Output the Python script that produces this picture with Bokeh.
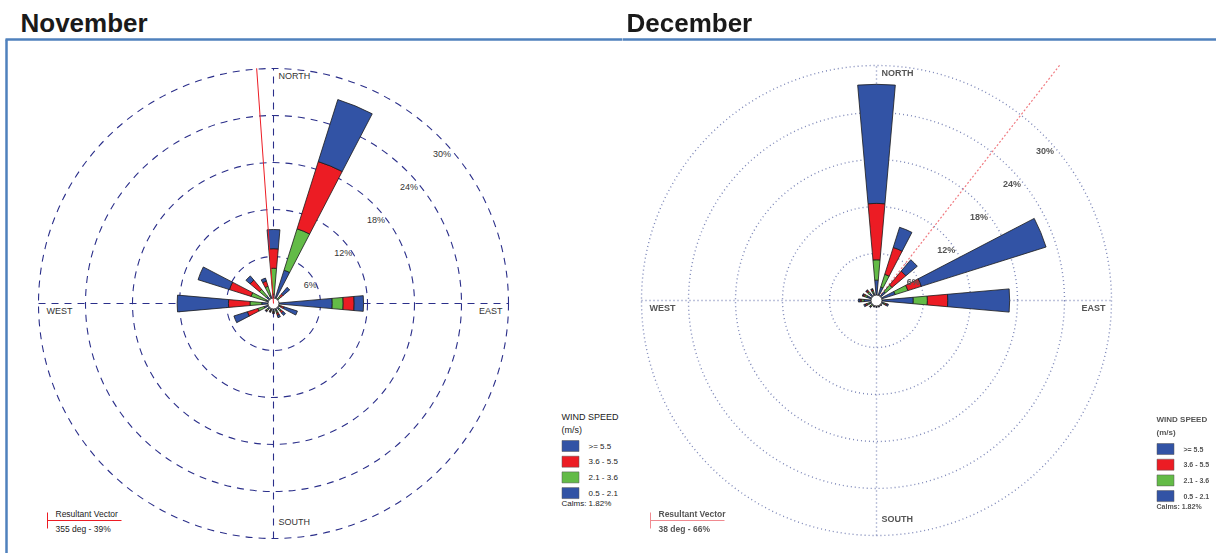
import math
from bokeh.plotting import figure
from bokeh.models import Range1d, ColumnDataSource, InlineStyleSheet
from bokeh.layouts import row
from bokeh.embed import file_html
from bokeh.resources import INLINE
from bokeh.core.properties import value

# --- data -------------------------------------------------------------
directions = ["N", "NNE", "NE", "ENE", "E", "ESE", "SE", "SSE",
              "S", "SSW", "SW", "WSW", "W", "WNW", "NW", "NNW"]
bearings = [22.5 * i for i in range(16)]

# frequency (%) per direction, per wind-speed class (m/s), listed from the centre out
speed_labels = ["0.5 - 2.1", "2.1 - 3.6", "3.6 - 5.5", ">= 5.5"]
class_colors = ["#3253a5", "#63bb47", "#ec1c24", "#3253a5"]

nov_05_21 = [1.2, 4.46, 0.8, 0.0, 7.5, 0.8, 1.0, 1.0, 1.0, 0.9, 1.0, 1.25, 1.5, 1.0, 1.2, 1.1]
nov_21_36 = [3.3, 5.54, 0.4, 0.0, 1.4, 0.2, 0.3, 0.3, 0.1, 0.1, 0.2, 0.85, 1.5, 2.0, 1.15, 1.2]
nov_36_55 = [2.5, 9.0, 0.4, 0.0, 1.4, 0.4, 0.3, 0.3, 0.1, 0.1, 0.1, 1.4, 2.75, 2.9, 1.55, 0.7]
nov_55_up = [2.45, 8.3, 1.1, 0.0, 1.2, 1.8, 0.4, 0.3, 0.1, 0.1, 0.1, 1.8, 6.55, 4.2, 0.7, 0.4]

dec_05_21 = [2.6, 1.8, 1.5, 2.5, 4.7, 1.0, 0.6, 0.6, 0.6, 0.6, 0.8, 1.0, 1.6, 1.3, 1.2, 1.0]
dec_21_36 = [2.6, 1.7, 1.1, 1.7, 1.8, 0.2, 0.1, 0.1, 0.1, 0.1, 0.2, 0.3, 0.3, 0.3, 0.3, 0.3]
dec_36_55 = [7.2, 3.6, 2.3, 1.8, 2.6, 0.2, 0.1, 0.1, 0.1, 0.1, 0.1, 0.2, 0.2, 0.2, 0.2, 0.2]
dec_55_up = [15.2, 2.7, 1.9, 16.7, 7.9, 0.2, 0.1, 0.1, 0.1, 0.1, 0.1, 0.2, 0.2, 0.1, 0.1, 0.1]

ring_levels = [6, 12, 18, 24, 30]
ring_labels = ["6%", "12%", "18%", "24%", "30%"]
compass = ["NORTH", "EAST", "SOUTH", "WEST"]

nov_calms = "Calms: 1.82%"
dec_calms = "Calms: 1.82%"
nov_vector_deg, nov_vector_len, nov_vector_text = 355.9, 30.1, "355 deg - 39%"
dec_vector_deg, dec_vector_len, dec_vector_text = 37.9, 38.3, "38 deg - 66%"

# --- layout constants ------------------------------------------------
W, H = 1216, 553
SPLIT = 622
PX = 235.0 / 30.0          # pixels per percent
FONT = value("Liberation Sans")
WEDGE_HALF = math.radians(5)


def Y(y_from_top):
    return H - y_from_top


def make_fig(x0, x1):
    p = figure(width=x1 - x0, height=H, x_range=Range1d(x0, x1), y_range=Range1d(0, H),
               output_backend="svg", toolbar_location=None, min_border=0)
    p.axis.visible = False
    p.grid.visible = False
    p.outline_line_color = None
    p.background_fill_color = "white"
    p.border_fill_color = "white"
    return p


def draw_rose(p, cx, cy, classes, ring_color, ring_dash, ring_width, text_color, bold):
    # rings
    p.circle(x=[cx] * len(ring_levels), y=[cy] * len(ring_levels),
             radius=[r * PX for r in ring_levels], fill_color=None,
             line_color=ring_color, line_dash=ring_dash, line_width=ring_width)
    rmax = ring_levels[-1] * PX
    p.segment(x0=[cx - rmax, cx], y0=[cy, cy - rmax], x1=[cx + rmax, cx], y1=[cy, cy + rmax],
              line_color=ring_color, line_dash=ring_dash, line_width=ring_width)

    # stacked wedges
    xs, ys, r_in, r_out, a0, a1, cols = [], [], [], [], [], [], []
    for i, b in enumerate(bearings):
        ang = math.radians(90 - b)
        cum = 0.0
        for k, vals in enumerate(classes):
            v = vals[i]
            if v <= 0:
                continue
            xs.append(cx); ys.append(cy)
            r_in.append(cum * PX); r_out.append((cum + v) * PX)
            a0.append(ang - WEDGE_HALF); a1.append(ang + WEDGE_HALF)
            cols.append(class_colors[k])
            cum += v
    src = ColumnDataSource(dict(x=xs, y=ys, ri=r_in, ro=r_out, a0=a0, a1=a1, c=cols))
    p.annular_wedge(x="x", y="y", inner_radius="ri", outer_radius="ro",
                    start_angle="a0", end_angle="a1", fill_color="c",
                    line_color="#1a1a1a", line_width=0.8, source=src)
    # calm circle
    p.circle(x=[cx], y=[cy], radius=[5.5], fill_color="white", line_color="#1a1a1a", line_width=0.8)

    style = "bold" if bold else "normal"
    # ring labels along the diagonal
    lx = [cx + (4.7 + 4.2 * k) * PX for k in range(len(ring_levels))]
    ly = [cy + (2.3 + 4.2 * k) * PX for k in range(len(ring_levels))]
    p.text(x=lx, y=ly, text=ring_labels, text_font=FONT, text_font_size="9px",
           text_font_style=style, text_color=text_color, text_align="center", text_baseline="middle")
    # compass labels
    p.text(x=[cx + 5], y=[cy + rmax - 7], text=[compass[0]], text_font=FONT, text_font_size="9px",
           text_font_style=style, text_color=text_color, text_align="left", text_baseline="middle")
    p.text(x=[cx + rmax - 6], y=[cy - 7], text=[compass[1]], text_font=FONT, text_font_size="9px",
           text_font_style=style, text_color=text_color, text_align="right", text_baseline="middle")
    p.text(x=[cx + 5], y=[cy - rmax + 17], text=[compass[2]], text_font=FONT, text_font_size="9px",
           text_font_style=style, text_color=text_color, text_align="left", text_baseline="middle")
    p.text(x=[cx - rmax + 8], y=[cy - 7], text=[compass[3]], text_font=FONT, text_font_size="9px",
           text_font_style=style, text_color=text_color, text_align="left", text_baseline="middle")


def draw_vector(p, cx, cy, deg, length, color, dash, width):
    a = math.radians(90 - deg)
    p.segment(x0=[cx], y0=[cy], x1=[cx + length * PX * math.cos(a)], y1=[cy + length * PX * math.sin(a)],
              line_color=color, line_dash=dash, line_width=width)


def draw_legend(p, lx, ly, calms, text_color, bold, size_big="9px", size_small="8px"):
    style = "bold" if bold else "normal"
    p.text(x=[lx, lx], y=[Y(ly), Y(ly + 13)], text=["WIND SPEED", "(m/s)"], text_font=FONT,
           text_font_size=size_big, text_font_style=style, text_color=text_color, text_baseline="middle")
    order = list(range(len(speed_labels)))[::-1]
    bx = [lx + 9] * len(order)
    by = [Y(ly + 29.5 + 15.7 * j) for j in range(len(order))]
    p.rect(x=bx, y=by, width=17, height=11, fill_color=[class_colors[k] for k in order],
           line_color="#555555", line_width=0.5)
    p.text(x=[lx + 27] * len(order), y=by, text=[speed_labels[k] for k in order], text_font=FONT,
           text_font_size=size_small, text_font_style=style, text_color=text_color, text_baseline="middle")
    p.text(x=[lx], y=[Y(ly + 87)], text=[calms], text_font=FONT, text_font_size=size_small,
           text_font_style=style, text_color=text_color, text_baseline="middle")


def draw_vector_key(p, x, y, label, color, text_color, bold):
    style = "bold" if bold else "normal"
    p.segment(x0=[x, x], y0=[Y(y - 8), Y(y)], x1=[x, x + 74], y1=[Y(y + 8), Y(y)],
              line_color=color, line_width=1)
    p.text(x=[x + 8, x + 8], y=[Y(y - 7), Y(y + 8)], text=["Resultant Vector", label], text_font=FONT,
           text_font_size="8.5px", text_font_style=style, text_color=text_color, text_baseline="middle")


BORDER = "#4f81bd"

# --- November -----------------------------------------------------------
nov = make_fig(0, SPLIT)
nov.text(x=[20], y=[Y(22)], text=["November"], text_font=FONT, text_font_size="26px",
         text_font_style="bold", text_color="#1a1a1a", text_baseline="middle")
nov.segment(x0=[5, 6], y0=[Y(39), Y(39)], x1=[SPLIT + 2, 6], y1=[Y(39), 0], line_color=BORDER, line_width=2.5)
ncx, ncy = 273, Y(303)
draw_rose(nov, ncx, ncy, [nov_05_21, nov_21_36, nov_36_55, nov_55_up],
          "#2b2f8a", "7 6", 1.1, "#333333", False)
draw_vector(nov, ncx, ncy, nov_vector_deg, nov_vector_len, "#ed1c24", "solid", 1)
draw_legend(nov, 561, 416, nov_calms, "#222222", False)
draw_vector_key(nov, 47, 520, nov_vector_text, "#ed1c24", "#222222", False)

# --- December -----------------------------------------------------------
dec = make_fig(SPLIT, W)
dec.text(x=[626], y=[Y(22)], text=["December"], text_font=FONT, text_font_size="26px",
         text_font_style="bold", text_color="#1a1a1a", text_baseline="middle")
dec.segment(x0=[SPLIT - 2], y0=[Y(39)], x1=[W], y1=[Y(39)], line_color=BORDER, line_width=2.5)
dcx, dcy = 876, Y(300)
draw_vector(dec, dcx, dcy, dec_vector_deg, dec_vector_len, "#f07a80", "2 2", 1.2)
draw_rose(dec, dcx, dcy, [dec_05_21, dec_21_36, dec_36_55, dec_55_up],
          "#7d87b8", "1 3", 1.4, "#555555", True)
draw_legend(dec, 1156, 419, dec_calms, "#555555", True, size_big="8px", size_small="7px")
draw_vector_key(dec, 650, 520, dec_vector_text, "#f08a90", "#555555", True)
# the December panel is a soft, low-resolution rendering
dec.stylesheets = [InlineStyleSheet(css=":host { filter: blur(0.6px); }")]

layout = row(nov, dec, spacing=0)
open("out.html", "w").write(file_html(layout, INLINE))
